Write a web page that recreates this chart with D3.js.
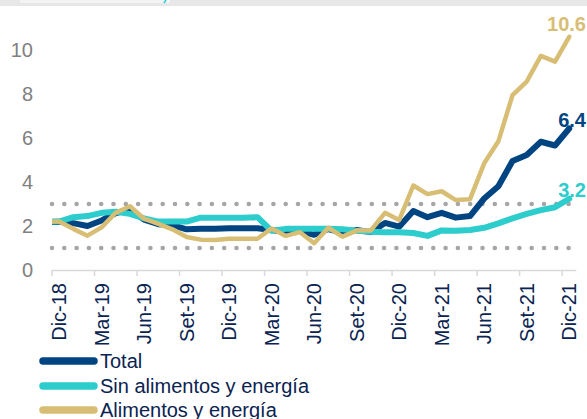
<!DOCTYPE html>
<html><head><meta charset="utf-8">
<script src="https://cdn.jsdelivr.net/npm/d3@7"></script>
<style>
html,body{margin:0;padding:0;background:#fff;}
svg{display:block;font-family:"Liberation Sans",Arial,sans-serif;}
</style></head>
<body><svg id="c" width="587" height="419"></svg>
<script>
// Months (Nov-18 partially visible at left edge, clipped by plot area)
const months = ["Nov-18","Dic-18","Ene-19","Feb-19","Mar-19","Abr-19","May-19","Jun-19","Jul-19","Ago-19","Set-19","Oct-19","Nov-19","Dic-19",
  "Ene-20","Feb-20","Mar-20","Abr-20","May-20","Jun-20","Jul-20","Ago-20","Set-20","Oct-20","Nov-20","Dic-20",
  "Ene-21","Feb-21","Mar-21","Abr-21","May-21","Jun-21","Jul-21","Ago-21","Set-21","Oct-21","Nov-21","Dic-21"];
const tickLabels = ["Dic-18","Mar-19","Jun-19","Set-19","Dic-19","Mar-20","Jun-20","Set-20","Dic-20","Mar-21","Jun-21","Set-21","Dic-21"];
const yTicks = [0,2,4,6,8,10];
const targetBand = [1,3];
const total = [2.17,2.19,2.13,2.00,2.25,2.59,2.73,2.29,2.08,2.04,1.85,1.87,1.87,1.90,
  1.90,1.90,1.82,1.72,1.78,1.60,1.86,1.69,1.82,1.72,2.14,1.97,
  2.68,2.40,2.60,2.38,2.45,3.25,3.81,4.95,5.23,5.83,5.66,6.43];
const sinAlimentos = [2.2,2.2,2.4,2.45,2.6,2.65,2.55,2.35,2.2,2.2,2.2,2.38,2.38,2.38,
  2.37,2.4,1.78,1.87,1.88,1.88,1.88,1.85,1.78,1.74,1.72,1.72,
  1.68,1.55,1.8,1.78,1.82,1.92,2.12,2.35,2.55,2.72,2.85,3.24];
const alimentos = [2.2,2.2,1.87,1.56,1.94,2.6,2.9,2.33,2.1,1.85,1.5,1.38,1.36,1.42,
  1.42,1.42,1.89,1.55,1.72,1.22,1.92,1.52,1.79,1.8,2.6,2.27,
  3.84,3.45,3.58,3.18,3.22,4.85,5.85,7.95,8.56,9.73,9.47,10.6];
const seriesNames = ["Total","Sin alimentos y energía","Alimentos y energía"];
const endLabels = ["6.4","3.2","10.6"];

const colors = ["#004481","#2DCCCD","#D8BE75"];
const widths = [6,6,4.5];
const svg = d3.select("#c");

// top decoration
svg.append("rect").attr("x",0).attr("y",0).attr("width",587).attr("height",6).attr("fill","#e7e7e7");
svg.append("rect").attr("x",20).attr("y",0).attr("width",150).attr("height",3).attr("fill","#f3f3f3");
svg.append("path").attr("d","M166,0 L164,3").attr("stroke","#2DCCCD").attr("stroke-width",1.5);

const x0 = 52, pw = 14.17;
const x = d3.scaleLinear().domain([-0.5, 36.5]).range([x0, x0 + 37*pw]);
const y = d3.scaleLinear().domain([0,12]).range([270,6]);
const idx = m => months.indexOf(m) - 1; // Dic-18 -> 0

svg.append("defs").append("clipPath").attr("id","pc")
  .append("rect").attr("x",x0).attr("y",0).attr("width",587-x0).attr("height",300);

// y axis labels
svg.append("g").selectAll("text").data(yTicks).join("text")
  .attr("x",33).attr("y",d=>y(d)).attr("dy","0.36em").attr("text-anchor","end")
  .attr("fill","#808080").attr("font-size",20).text(d=>d);

// target band dotted lines
svg.append("g").selectAll("line").data(targetBand).join("line")
  .attr("x1",x0).attr("x2",578).attr("y1",d=>y(d)).attr("y2",d=>y(d))
  .attr("stroke","#a6a6a6").attr("stroke-width",4.6).attr("stroke-linecap","round")
  .attr("stroke-dasharray","0 12.3");

// x axis line
svg.append("line").attr("x1",x0).attr("x2",x(36.5)).attr("y1",270.5).attr("y2",270.5)
  .attr("stroke","#d9d9d9").attr("stroke-width",1.5);
// ticks (category boundaries, every 3 months)
const tickIdx = tickLabels.map(idx);
svg.append("g").selectAll("line").data(tickIdx).join("line")
  .attr("x1",d=>x(d-0.5)).attr("x2",d=>x(d-0.5)).attr("y1",270).attr("y2",276)
  .attr("stroke","#d9d9d9").attr("stroke-width",1.5);
svg.append("g").selectAll("text").data(tickLabels).join("text")
  .attr("transform",d=>`translate(${x(idx(d))},283) rotate(-90)`)
  .attr("dy","0.35em").attr("text-anchor","end")
  .attr("fill","#0a2350").attr("font-size",20).text(d=>d);

// lines
const data = [total, sinAlimentos, alimentos];
const line = d3.line().x((d,i)=>x(i-1)).y(d=>y(d)).curve(d3.curveLinear);
const g = svg.append("g").attr("clip-path","url(#pc)");
data.forEach((s,k)=>{
  g.append("path").attr("d",line(s)).attr("fill","none")
    .attr("stroke",colors[k]).attr("stroke-width",widths[k])
    .attr("stroke-linejoin","round").attr("stroke-linecap","round");
});

// end labels
const labelY = [127, 197, 31];
data.forEach((s,k)=>{
  svg.append("text").attr("x",586).attr("y",labelY[k]).attr("text-anchor","end")
    .attr("font-size",20).attr("font-weight","bold").attr("fill",colors[k]).text(endLabels[k]);
});

// legend
const legY = [361, 386, 410];
seriesNames.forEach((n,k)=>{
  svg.append("line").attr("x1",43).attr("x2",94).attr("y1",legY[k]).attr("y2",legY[k])
    .attr("stroke",colors[k]).attr("stroke-width",7.5).attr("stroke-linecap","round");
  svg.append("text").attr("x",100).attr("y",legY[k]+6.5).attr("font-size",20)
    .attr("fill","#0a2350").text(n);
});
</script></body></html>
